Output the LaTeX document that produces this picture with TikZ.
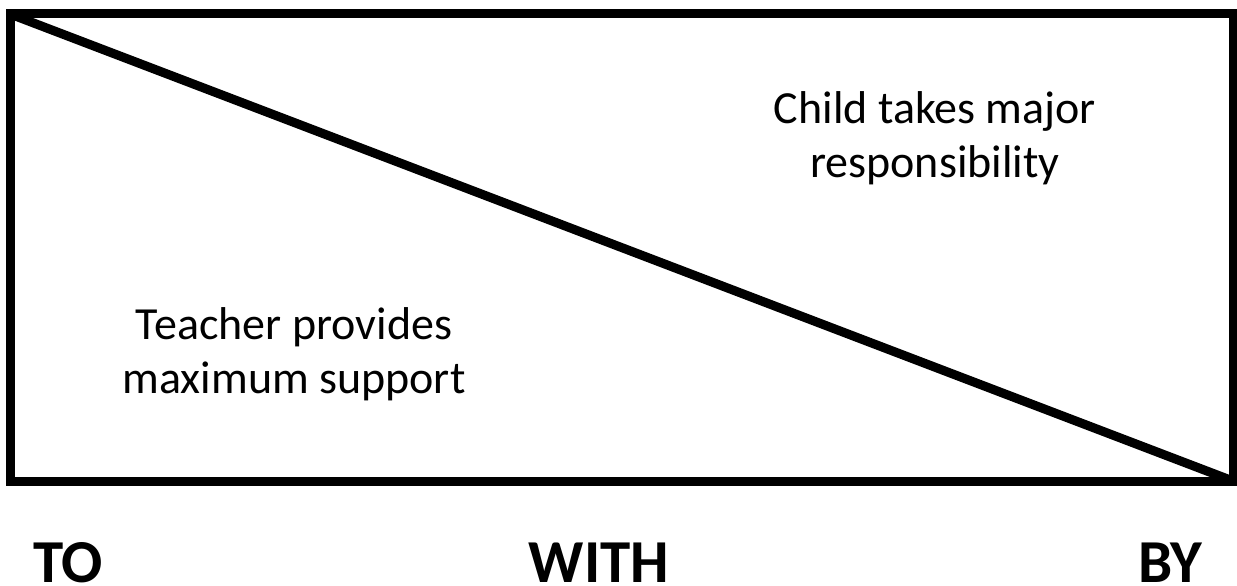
\documentclass[tikz,border=0pt]{standalone}
\usepackage{fontspec}
\setmainfont{Carlito}
\tikzset{
    boxtext/.style={align=center, anchor=base, inner sep=0pt, font=\fontsize{46}{54}\selectfont},
    steptext/.style={anchor=base, inner sep=0pt, font=\fontsize{61}{70}\selectfont\bfseries}
}
\begin{document}
\begin{tikzpicture}[x=1pt,y=-1pt,line width=9pt]
        \useasboundingbox (0,0) rectangle (1237,586);
        \coordinate (TL) at (10,14);
        \coordinate (BR) at (1233,481);
        \draw (TL) rectangle (BR);
        \draw (TL) -- (BR);
        \node[boxtext] (child) at (935,177) {Child takes major\\responsibility};
        \node[boxtext] (teacher) at (294,393) {Teacher provides\\maximum support};
        \node[steptext] (to) at (68,582) {TO};
        \node[steptext] (with) at (599,582) {WITH};
        \node[steptext] (by) at (1170,582) {BY};
    \end{tikzpicture}
\end{document}
